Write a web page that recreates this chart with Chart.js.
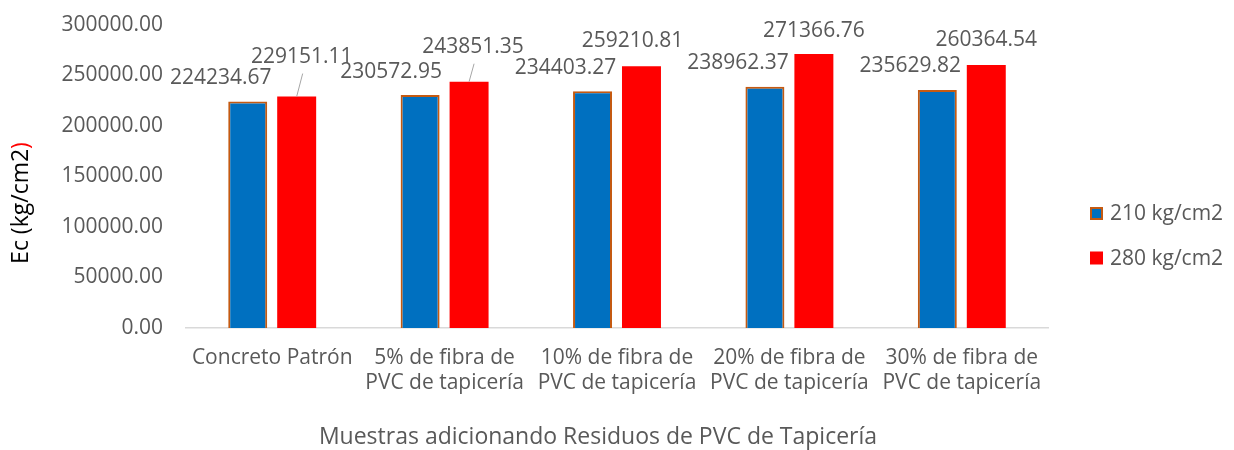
<!DOCTYPE html>
<html><head><meta charset="utf-8">
<script src="https://cdn.jsdelivr.net/npm/chart.js@4/dist/chart.umd.min.js"></script>
<style>html,body{margin:0;padding:0;background:#fff;}#wrap{width:1234px;height:450px;position:relative;}</style>
</head><body><div id="wrap"><canvas id="c"></canvas></div>
<script>
const categories = [
  ["Concreto Patrón"],
  ["5% de fibra de", "PVC de tapicería"],
  ["10% de fibra de", "PVC de tapicería"],
  ["20% de fibra de", "PVC de tapicería"],
  ["30% de fibra de", "PVC de tapicería"]
];
const series210 = [224234.67, 230572.95, 234403.27, 238962.37, 235629.82];
const series280 = [229151.11, 243851.35, 259210.81, 271366.76, 260364.54];
const seriesNames = ["210 kg/cm2", "280 kg/cm2"];
const yTicks = [0, 50000, 100000, 150000, 200000, 250000, 300000];
const yTitleMain = "Ec (kg/cm2";
const yTitleEnd = ")";
const xTitle = "Muestras adicionando Residuos de PVC de Tapicería";

const FONT = "'Open Sans', 'Noto Sans', sans-serif";
const FSIZE = 21;
const TSIZE = 23;
const GREY = '#595959';

// label offsets (px) relative to each bar's top centre: [dx, rise]
const labelOffsets = [
  [[-27, 24], [-29, 23], [-27, 23], [-27, 24], [-27, 24]],
  [[5, 40], [4, 35], [-9, 25], [0, 23], [0, 25]]
];

const labelPlugin = {
  id: 'valueLabels',
  afterDatasetsDraw(chart) {
    const ctx = chart.ctx;
    ctx.save();
    ctx.font = FSIZE + 'px ' + FONT;
    ctx.fillStyle = GREY;
    ctx.textAlign = 'center';
    ctx.textBaseline = 'middle';
    chart.data.datasets.forEach((ds, di) => {
      const meta = chart.getDatasetMeta(di);
      meta.data.forEach((el, i) => {
        const [dx, rise] = labelOffsets[di][i];
        const lx = el.x + dx, ly = el.y - rise;
        ctx.fillText(ds.data[i].toFixed(2), lx, ly);
        if (rise > 30) {
          ctx.strokeStyle = '#A6A6A6';
          ctx.lineWidth = 1;
          ctx.beginPath();
          ctx.moveTo(lx + 1, ly + 17);
          ctx.lineTo(el.x, el.y);
          ctx.stroke();
        }
      });
    });
    ctx.restore();
  }
};

const decorPlugin = {
  id: 'decor',
  afterDraw(chart) {
    const ctx = chart.ctx;
    ctx.save();
    ctx.font = FSIZE + 'px ' + FONT;
    // legend
    ctx.textBaseline = 'middle';
    ctx.textAlign = 'left';
    const legY = [213.5, 258];
    chart.data.datasets.forEach((ds, i) => {
      const y = legY[i];
      ctx.fillStyle = ds.backgroundColor;
      ctx.fillRect(1090, y - 6.5, 13, 13);
      if (ds.borderWidth) {
        ctx.strokeStyle = ds.borderColor;
        ctx.lineWidth = 2;
        ctx.strokeRect(1091, y - 5.5, 11, 11);
      }
      ctx.fillStyle = GREY;
      ctx.fillText(ds.label, 1110, y + 1);
    });
    // x title
    ctx.font = TSIZE + 'px ' + FONT;
    ctx.textAlign = 'center';
    ctx.fillStyle = GREY;
    ctx.fillText(xTitle, 598, 437);
    // y title (two colours)
    ctx.translate(21, 203);
    ctx.rotate(-Math.PI / 2);
    const w1 = ctx.measureText(yTitleMain).width;
    const w2 = ctx.measureText(yTitleEnd).width;
    const start = -(w1 + w2) / 2;
    ctx.textAlign = 'left';
    ctx.fillStyle = '#000000';
    ctx.fillText(yTitleMain, start, 0);
    ctx.fillStyle = '#FF0000';
    ctx.fillText(yTitleEnd, start + w1, 0);
    ctx.restore();
  }
};

new Chart(document.getElementById('c'), {
  type: 'bar',
  data: {
    labels: categories,
    datasets: [
      { label: seriesNames[0], data: series210, backgroundColor: '#0070C0', borderColor: '#C55A11', borderWidth: 2,
        barPercentage: 0.796, categoryPercentage: 0.568 },
      { label: seriesNames[1], data: series280, backgroundColor: '#FF0000', borderWidth: 0,
        barPercentage: 0.796, categoryPercentage: 0.568 }
    ]
  },
  options: {
    responsive: true,
    maintainAspectRatio: false,
    animation: false,
    devicePixelRatio: 1,
    layout: { padding: { top: 25, right: 186, left: 0, bottom: 0 } },
    plugins: { legend: { display: false }, tooltip: { enabled: false }, title: { display: false } },
    scales: {
      x: {
        grid: { display: false, drawTicks: false },
        border: { display: true, color: '#D9D9D9', width: 1.5 },
        ticks: { color: GREY, font: { family: FONT, size: FSIZE }, padding: 17, maxRotation: 0, autoSkip: false },
        afterFit(s) { s.height = 122; s.paddingLeft = 0; s.paddingRight = 0; s.paddingTop = 0; s.paddingBottom = 0; }
      },
      y: {
        min: 0, max: 300000,
        grid: { display: false, drawTicks: false },
        border: { display: false },
        afterBuildTicks(s) { s.ticks = yTicks.map(v => ({ value: v })); },
        ticks: { color: GREY, font: { family: FONT, size: FSIZE }, padding: 23,
                 callback: v => Number(v).toFixed(2) },
        afterFit(s) { s.width = 186; s.paddingTop = 0; s.paddingBottom = 0; s.paddingLeft = 0; s.paddingRight = 0; }
      }
    }
  },
  plugins: [labelPlugin, decorPlugin]
});
</script></body></html>
